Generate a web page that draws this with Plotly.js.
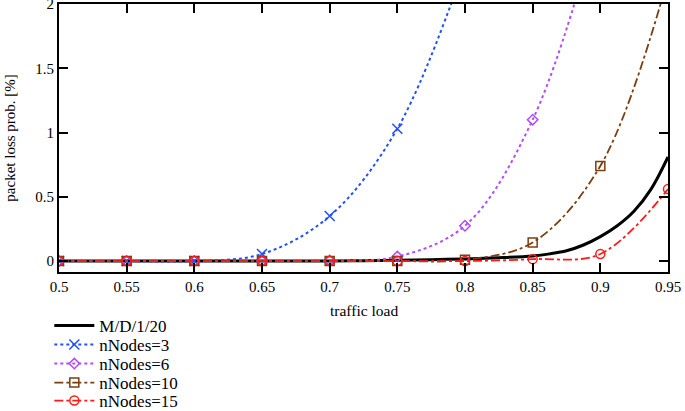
<!DOCTYPE html>
<html><head><meta charset="utf-8">
<script src="https://cdn.plot.ly/plotly-3.0.1.min.js"></script>
<style>html,body{margin:0;padding:0;background:#fff}</style>
</head><body><div id="chart" style="width:685px;height:411px"></div>
<script>
const mdX = [0.5,0.55,0.6,0.65,0.7,0.725,0.75,0.775,0.8,0.825,0.85,0.8625,0.875,0.8875,0.9,0.9125,0.925,0.9375,0.95];
const mdY = [0,0,0,0,0.001,0.003,0.006,0.011,0.017,0.026,0.04,0.056,0.08,0.125,0.19,0.275,0.39,0.56,0.81];
const loadX = [0.5,0.55,0.6,0.65,0.7,0.75,0.8,0.85,0.9,0.95];
const n3 = [0,0,0,0.055,0.35,1.03,2.3,null,null,null];
const n6 = [0,0,0,0,0.005,0.035,0.275,1.1,2.7,null];
const n10 = [0,0,0,0,0,0,0.01,0.145,0.74,2.2];
const n15 = [0,0,0,0,0,0,0,0.015,0.055,0.56];
const names = ['M/D/1/20','nNodes=3','nNodes=6','nNodes=10','nNodes=15'];
const xTicks = [0.5,0.55,0.6,0.65,0.7,0.75,0.8,0.85,0.9,0.95];
const xTickText = ['0.5','0.55','0.6','0.65','0.7','0.75','0.8','0.85','0.9','0.95'];
const yTicks = [0,0.5,1,1.5,2];
const yTickText = ['0','0.5','1','1.5','2'];
const xTitle = 'traffic load';
const yTitle = 'packet loss prob. [%]';

const traces = [
 {x: mdX, y: mdY, name: names[0], legend:'legend', mode:'lines', line:{color:'#000', width:3, shape:'spline'}},
 {x: loadX, y: n3, name: names[1], legend:'legend2', mode:'lines+markers', line:{color:'#1f4fff', width:2, dash:'dot', shape:'spline'}, marker:{symbol:'x-thin', size:10, line:{color:'#1f4fff', width:1.5}}},
 {x: loadX, y: n6, name: names[2], legend:'legend3', mode:'lines+markers', line:{color:'#b44bff', width:2, dash:'dot', shape:'spline'}, marker:{symbol:'diamond-open', size:8, color:'#b44bff', line:{width:1.5}}},
 {x: loadX, y: n10, name: names[3], legend:'legend4', mode:'lines+markers', line:{color:'#7a3e10', width:1.8, dash:'dashdot', shape:'spline'}, marker:{symbol:'square-open', size:9, color:'#7a3e10', line:{width:1.5}}},
 {x: loadX, y: n15, name: names[4], legend:'legend5', mode:'lines+markers', line:{color:'#ff1a1a', width:1.8, dash:'dashdot', shape:'spline'}, marker:{symbol:'circle-open', size:9, color:'#ff1a1a', line:{width:1.5}}}
];
const fam = 'Liberation Serif, serif';
const legendRows = [326, 345, 364, 383, 401];
function leg(i){
  return {x:0.072, xref:'container', y:1 - legendRows[i]/411, yref:'container', xanchor:'left', yanchor:'middle',
    font:{family:fam, size:17, color:'#000'}, itemwidth:40, bgcolor:'rgba(0,0,0,0)', borderwidth:0};
}
const layout = {
 width:685, height:411,
 margin:{l:59, r:17, t:4, b:139, autoexpand:false},
 paper_bgcolor:'#fff', plot_bgcolor:'#fff',
 font: {family:fam, size:15, color:'#000'},
 showlegend:true,
 legend:leg(0), legend2:leg(1), legend3:leg(2), legend4:leg(3), legend5:leg(4),
 xaxis:{range:[0.5,0.95], tickvals:xTicks, ticktext:xTickText, tickfont:{family:fam, size:15}, ticklabeloverflow:'allow',
   ticks:'inside', ticklen:9, tickwidth:2, tickcolor:'#000', showline:true, linewidth:2, linecolor:'#000', mirror:'ticks', showgrid:false, zeroline:false},
 yaxis:{range:[-0.085,2], tickvals:yTicks, ticktext:yTickText, tickfont:{family:fam, size:15}, ticklabeloverflow:'allow',
   ticks:'inside', ticklen:9, tickwidth:2, tickcolor:'#000', showline:true, linewidth:2, linecolor:'#000', mirror:'ticks', showgrid:false, zeroline:false},
 annotations:[
   {text:xTitle, xref:'paper', yref:'paper', x:0.5, y:-0.142, xanchor:'center', yanchor:'middle', showarrow:false, font:{family:fam, size:15.5, color:'#000'}},
   {text:yTitle, xref:'paper', yref:'paper', x:-0.081, y:0.5, xanchor:'center', yanchor:'middle', textangle:-90, showarrow:false, font:{family:fam, size:15, color:'#000'}}
 ]
};
Plotly.newPlot('chart', traces, layout, {displayModeBar:false});
</script></body></html>
